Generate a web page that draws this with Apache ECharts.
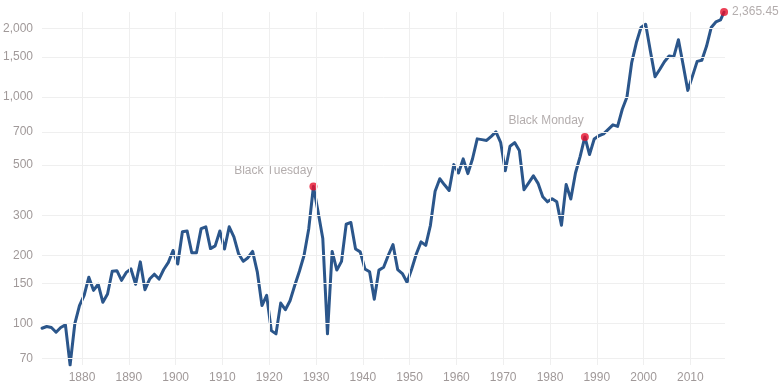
<!DOCTYPE html>
<html>
<head>
<meta charset="utf-8">
<script src="https://cdn.jsdelivr.net/npm/echarts@6/dist/echarts.min.js"></script>
<style>html,body{margin:0;padding:0;background:#fff;}#c{width:780px;height:384px;}</style>
</head>
<body>
<div id="c"></div>
<script>
// Annual values (real index level), one per year
const years = [];
for (let y = 1871; y <= 2016; y++) years.push(y);
const values = [
  95.3, 97, 96, 91.5, 96, 98.6, 65.6, 99.5, 120,            // 1871-1879
  133, 160, 140, 149, 124, 135, 170, 171, 155, 168,         // 1880-1889
  174, 149, 187, 141, 157, 165, 157, 173, 186, 210,         // 1890-1899
  183, 254, 256, 205, 205, 262, 267, 214, 220, 256,         // 1900-1909
  213, 267, 241, 203, 188, 195, 208, 169, 120, 133,         // 1910-1919
  93, 90, 123, 115, 126, 147, 170, 200, 262, 402,           // 1920-1929
  310, 237, 90, 208, 172, 188, 274, 279, 213, 207,          // 1930-1939
  174, 169, 128, 172, 177, 200, 223, 173, 166, 152,         // 1940-1949
  174, 203, 229, 221, 271, 383, 435, 409, 386, 502,         // 1950-1959
  461, 532, 458, 533, 652, 647, 642, 669, 700, 630,         // 1960-1969
  472, 605, 628, 580, 389, 417, 448, 415, 362, 344,         // 1970-1979
  355, 344, 271, 410, 354, 461, 546, 665, 556, 651,         // 1980-1989
  673, 686, 718, 752, 740, 881, 997, 1410, 1730, 2020,      // 1990-1999
  2087, 1592, 1225, 1320, 1428, 1513, 1500, 1785, 1385, 1067, // 2000-2009
  1233, 1433, 1448, 1670, 2020, 2138, 2182                  // 2010-2016
];
const yearOffset = 0.45;          // annual samples sit mid-year
const lastDate = 2017.2;          // latest reading (March 2017)
const lastValue = 2365.45;
const eventYears = [1929, 1987];
const eventNames = ['Black Tuesday', 'Black Monday'];
const xTicks = [1880, 1890, 1900, 1910, 1920, 1930, 1940, 1950, 1960, 1970, 1980, 1990, 2000, 2010];
const yTicks = [70, 100, 150, 200, 300, 500, 700, 1000, 1500, 2000];

const lineData = years.map((y, i) => [y + yearOffset, values[i]]);
lineData.push([lastDate, lastValue]);

const dotData = eventYears.map((y, k) => ({
  value: [y + yearOffset, values[years.indexOf(y)]],
  label: { show: true, formatter: eventNames[k], position: 'top', align: 'right', offset: [-1, -1] }
}));
dotData.push({
  value: [lastDate, lastValue],
  label: { show: true, formatter: lastValue.toLocaleString('en-US', {minimumFractionDigits: 2}), position: 'right', distance: 4 }
});

const gridColor = '#efefef';
const textColor = '#a09999';
const fontFamily = '"Liberation Sans", Arial, Helvetica, sans-serif';

const chart = echarts.init(document.getElementById('c'), null, { renderer: 'canvas' });
chart.setOption({
  animation: false,
  backgroundColor: '#fff',
  grid: { left: 39, right: 55, top: 12, bottom: 19, containLabel: false },
  xAxis: {
    type: 'value',
    min: years[0] + yearOffset,
    max: 2017.4,
    axisLine: { show: false },
    axisTick: { show: false },
    splitLine: { show: false },
    axisLabel: {
      customValues: xTicks,
      color: textColor, fontSize: 12, fontFamily: fontFamily, margin: 7,
      formatter: v => String(v)
    }
  },
  yAxis: {
    type: 'log',
    logBase: 10,
    min: 'dataMin',
    max: 'dataMax',
    axisLine: { show: false },
    axisTick: { show: false },
    splitLine: { show: false },
    axisLabel: {
      customValues: yTicks,
      color: textColor, fontSize: 12, fontFamily: fontFamily, margin: 9,
      formatter: v => Number(v).toLocaleString('en-US')
    }
  },
  series: [
    {
      type: 'line',
      data: [],
      z: 1,
      silent: true,
      markLine: {
        silent: true,
        symbol: ['none', 'none'],
        label: { show: false },
        lineStyle: { color: gridColor, width: 1, type: 'solid' },
        emphasis: { disabled: true },
        data: xTicks.map(v => ({ xAxis: v })).concat(yTicks.map(v => ({ yAxis: v })))
      }
    },
    {
      type: 'line',
      data: lineData,
      z: 2,
      showSymbol: false,
      symbol: 'none',
      lineStyle: { color: '#2b568b', width: 3, join: 'round', cap: 'round' },
      emphasis: { disabled: true }
    },
    {
      type: 'scatter',
      data: dotData,
      z: 3,
      symbolSize: 8,
      itemStyle: { color: '#e60f2b' },
      label: { color: textColor, fontSize: 12, fontFamily: fontFamily },
      emphasis: { disabled: true }
    }
  ]
});
</script>
</body>
</html>
